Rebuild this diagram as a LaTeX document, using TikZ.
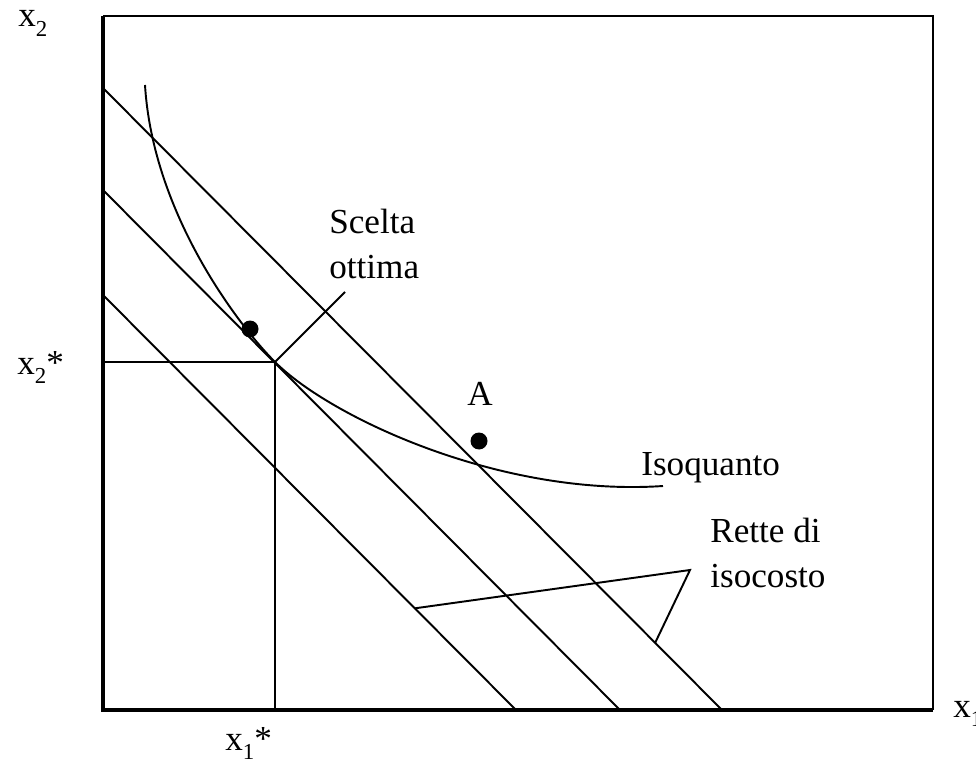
\documentclass[tikz,border=0pt]{standalone}
\usepackage{fontspec}
\setmainfont{Liberation Serif}
\usetikzlibrary{positioning,calc}
\newcommand{\lowsub}[1]{\raisebox{-5.5pt}{\fontsize{13}{13}\selectfont #1}}

\begin{document}
\begin{tikzpicture}[
  x=0.02cm, y=-0.02cm,
  lbl/.style={font=\fontsize{20}{25.6}\selectfont, inner sep=0pt, align=left},
  axisline/.style={line width=2.4pt},
  frameline/.style={line width=1.4pt},
  costline/.style={line width=1.1pt},
  guide/.style={line width=1.1pt},
  dot/.style={circle, fill=black, inner sep=0pt, minimum size=0.34cm},
]
\useasboundingbox (0,0) rectangle (976,763);

% Frame and axes
\coordinate (origin) at (103,710);
\coordinate (ytop) at (103,16);
\coordinate (xend) at (933,710);
\coordinate (corner) at (933,16);
\draw[frameline] (ytop) -- (corner) -- (xend);
\draw[axisline] (ytop) -- (origin) -- (xend);

% Isocost lines
\coordinate (c1a) at (103,88);  \coordinate (c1b) at (722,710);
\coordinate (c2a) at (103,190); \coordinate (c2b) at (620,710);
\coordinate (c3a) at (103,295); \coordinate (c3b) at (516,710);
\draw[costline] (c1a) -- (c1b);
\draw[costline] (c2a) -- (c2b);
\draw[costline] (c3a) -- (c3b);

% Isoquant, tangent to the middle line
\coordinate (tang) at (275,362);
\coordinate (qstart) at (145,85);
\coordinate (qend) at (663,486);
\draw[costline] (qstart) .. controls (153,215) and (240,327) .. (tang)
  .. controls (330,417) and (500,497) .. (qend);

% Optimum guides
\coordinate (x2s) at (103,362);
\coordinate (x1s) at (275,710);
\draw[guide] (x2s) -- (tang) -- (x1s);

% Points
\node[dot] (pt) at (250,329) {};
\node[dot] (ptA) at (479,441) {};

% Axis labels
\node[lbl, anchor=base west] (ylab) at (18,27) {x\lowsub{2}};
\node[lbl, anchor=base west] (ystar) at (17,374) {x\lowsub{2}*};
\node[lbl, anchor=base west] (xstar) at (225,750) {x\lowsub{1}*};
\node[lbl, anchor=base west] (xlab) at (953,717) {x\lowsub{1}};

% Annotations
\node[lbl, anchor=base] (labA) at (480,405) {A};
\node[lbl, anchor=north west] (scelta) at (329,209) {Scelta\\ottima};
\node[lbl, anchor=base west] (isoq) at (641,475) {Isoquanto};
\node[lbl, anchor=north west] (rette) at (710,518) {Rette di\\isocosto};

% Leaders
\coordinate (sc) at (345,292);
\draw[guide] (tang) -- (sc);
\coordinate (r3) at ($(c3a)!0.755!(c3b)$);
\coordinate (rk) at (690,570);
\coordinate (r1) at ($(c1a)!0.892!(c1b)$);
\draw[guide] (r3) -- (rk) -- (r1);
\end{tikzpicture}
\end{document}
